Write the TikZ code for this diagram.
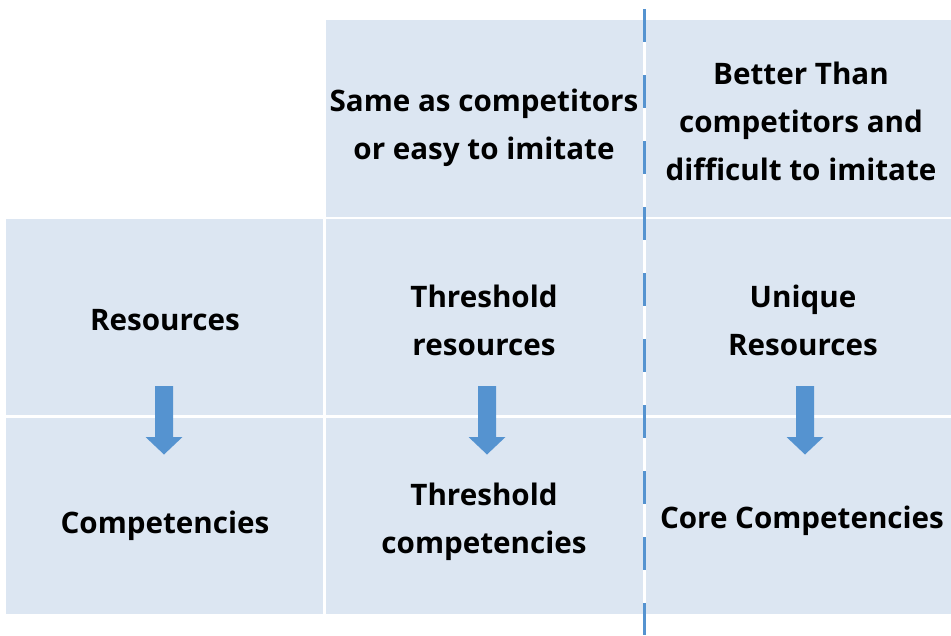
\documentclass[tikz,border=0pt]{standalone}
\usepackage{fontspec}
\setmainfont{Open Sans}
\definecolor{cellblue}{HTML}{DCE6F2}
\definecolor{arrowblue}{HTML}{5593D0}
\begin{document}
\begin{tikzpicture}[x=1pt,y=-1pt,
  cell/.style={fill=cellblue, draw=none, inner sep=0pt, outer sep=0pt},
  lbl/.style={align=center, font=\fontsize{29.6}{48}\selectfont\bfseries, text=black, inner sep=0pt},
  dashline/.style={draw=arrowblue, line width=3pt, dash pattern=on 33pt off 33pt},
  downarrow/.style={fill=arrowblue, draw=none}]
\useasboundingbox (0,0) rectangle (951,635);
% cells
\node[cell, minimum width=317pt, minimum height=197pt] (c12) at (484.5,118.5) {};
\node[cell, minimum width=305pt, minimum height=197pt] (c13) at (798.5,118.5) {};
\node[cell, minimum width=317pt, minimum height=196pt] (c21) at (164.5,317) {};
\node[cell, minimum width=317pt, minimum height=196pt] (c22) at (484.5,317) {};
\node[cell, minimum width=305pt, minimum height=196pt] (c23) at (798.5,317) {};
\node[cell, minimum width=317pt, minimum height=196pt] (c31) at (164.5,516) {};
\node[cell, minimum width=317pt, minimum height=196pt] (c32) at (484.5,516) {};
\node[cell, minimum width=305pt, minimum height=196pt] (c33) at (798.5,516) {};
% dashed divider
\coordinate (dtop) at (644,9);
\coordinate (dbot) at (644,635);
\draw[dashline] (dtop) -- (dbot);
% labels
\node[lbl] (t12) at (484,128) {Same as competitors\\or easy to imitate};
\node[lbl] (t13) at (801,121) {Better Than\\competitors and\\difficult to imitate};
\node[lbl] (t21) at (165,320) {Resources};
\node[lbl] (t22) at (484,320) {Threshold\\resources};
\node[lbl] (t23) at (803,320) {Unique\\Resources};
\node[lbl] (t31) at (165,526) {Competencies};
\node[lbl] (t32) at (484,522) {Threshold\\competencies};
\node[lbl] (t33) at (802,521) {Core Competencies};
% arrows
\foreach \cx/\nm in {164/a1,487/a2,805/a3}{
  \fill[downarrow] (\cx-9,386) -- (\cx+9,386) -- (\cx+9,437) -- (\cx+18.5,437)
     -- (\cx,454.5) -- (\cx-18.5,437) -- (\cx-9,437) -- cycle;
  \coordinate (\nm) at (\cx,420);
}
\end{tikzpicture}
\end{document}
